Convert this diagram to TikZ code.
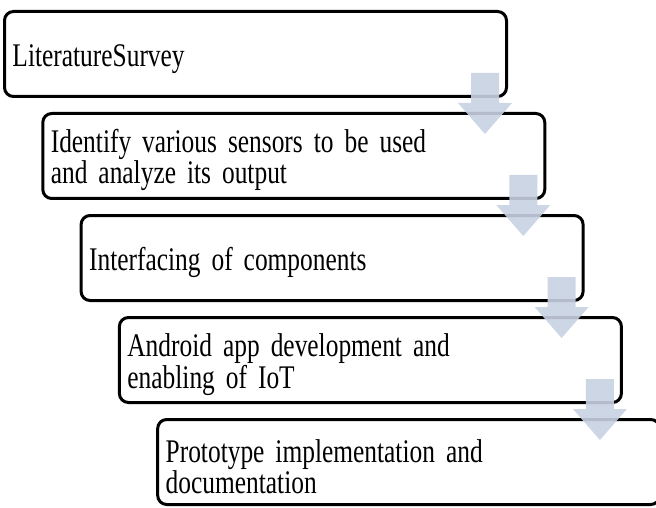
\documentclass[tikz,border=0pt]{standalone}
\usepackage{fontspec}
\setmainfont[FakeStretch=0.77, WordSpace=0.5]{Liberation Serif}
\usepackage{xcolor}
\usepackage{tikz}
\usetikzlibrary{positioning, calc}

\definecolor{arrowfill}{RGB}{200,209,226}

\tikzset{
    stage/.style={draw, line width=3pt, rounded corners=9pt, minimum width=502pt,
        minimum height=85pt, text width=486pt, inner xsep=8pt, align=left,
        font=\fontsize{33}{29}\selectfont,
        execute at begin node={\rule{0pt}{32pt}}},
    downarrow/.style={fill=arrowfill, fill opacity=0.9}
}

\begin{document}
\begin{tikzpicture}[x=1pt, y=1pt, node distance=102pt and 38.3pt, on grid]
        \useasboundingbox (0,0) rectangle (656,507);

        \node[stage] (s1) at (255.5,453) {LiteratureSurvey};
        \node[stage] (s2) [below right=of s1] {Identify various sensors to be used\\and analyze its output};
        \node[stage] (s3) [below right=of s2] {Interfacing of components};
        \node[stage] (s4) [below right=of s3] {Android app development and\\enabling of IoT};
        \node[stage] (s5) [below right=of s4] {Prototype implementation and\\documentation};

        % arrows between the stages
        \foreach \s in {s1, s2, s3, s4}
            \fill[downarrow, shift={(\s.south east)}]
                (-37,25) -- (-9,25) -- (-9,-5) -- (4,-5) -- (-23,-36) -- (-50,-5) -- (-37,-5) -- cycle;

    \end{tikzpicture}
\end{document}
